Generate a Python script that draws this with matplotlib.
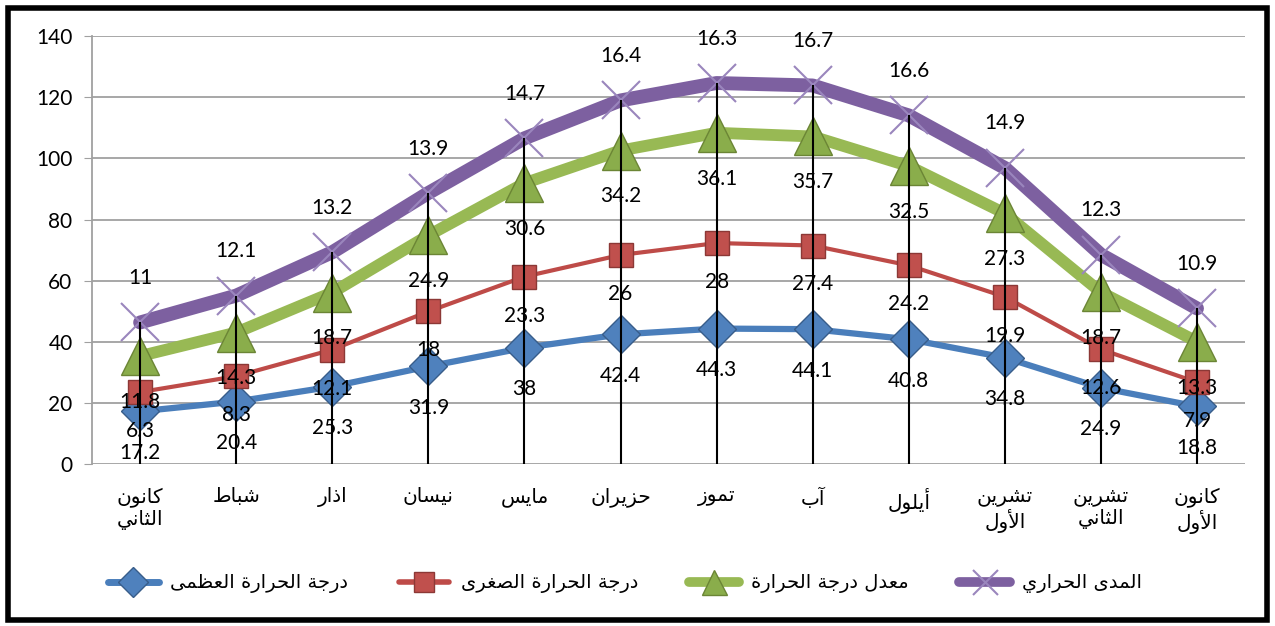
import matplotlib
matplotlib.use("Agg")
import matplotlib.pyplot as plt
from matplotlib.lines import Line2D
from matplotlib.patches import Rectangle
import numpy as np

# ---------------- data ----------------
months = ["كانون\nالثاني", "شباط", "اذار", "نيسان", "مايس", "حزيران", "تموز",
          "آب", "أيلول", "تشرين\nالأول", "تشرين\nالثاني", "كانون\nالأول"]
series_names = ["درجة الحرارة العظمى", "درجة الحرارة الصغرى", "معدل درجة الحرارة", "المدى الحراري"]
max_temp = [17.2, 20.4, 25.3, 31.9, 38, 42.4, 44.3, 44.1, 40.8, 34.8, 24.9, 18.8]
min_temp = [6.3, 8.3, 12.1, 18, 23.3, 26, 28, 27.4, 24.2, 19.9, 12.6, 7.9]
mean_temp = [11.8, 14.3, 18.7, 24.9, 30.6, 34.2, 36.1, 35.7, 32.5, 27.3, 18.7, 13.3]
temp_range = [11, 12.1, 13.2, 13.9, 14.7, 16.4, 16.3, 16.7, 16.6, 14.9, 12.3, 10.9]
y_ticks = [0, 20, 40, 60, 80, 100, 120, 140]

# ---------------- minimal Arabic shaping ----------------
DUAL = {
    'ب': (0xFE8F, 0xFE90, 0xFE91, 0xFE92), 'ت': (0xFE95, 0xFE96, 0xFE97, 0xFE98),
    'ث': (0xFE99, 0xFE9A, 0xFE9B, 0xFE9C), 'ج': (0xFE9D, 0xFE9E, 0xFE9F, 0xFEA0),
    'ح': (0xFEA1, 0xFEA2, 0xFEA3, 0xFEA4), 'خ': (0xFEA5, 0xFEA6, 0xFEA7, 0xFEA8),
    'س': (0xFEB1, 0xFEB2, 0xFEB3, 0xFEB4), 'ش': (0xFEB5, 0xFEB6, 0xFEB7, 0xFEB8),
    'ص': (0xFEB9, 0xFEBA, 0xFEBB, 0xFEBC), 'ض': (0xFEBD, 0xFEBE, 0xFEBF, 0xFEC0),
    'ط': (0xFEC1, 0xFEC2, 0xFEC3, 0xFEC4), 'ظ': (0xFEC5, 0xFEC6, 0xFEC7, 0xFEC8),
    'ع': (0xFEC9, 0xFECA, 0xFECB, 0xFECC), 'غ': (0xFECD, 0xFECE, 0xFECF, 0xFED0),
    'ف': (0xFED1, 0xFED2, 0xFED3, 0xFED4), 'ق': (0xFED5, 0xFED6, 0xFED7, 0xFED8),
    'ك': (0xFED9, 0xFEDA, 0xFEDB, 0xFEDC), 'ل': (0xFEDD, 0xFEDE, 0xFEDF, 0xFEE0),
    'م': (0xFEE1, 0xFEE2, 0xFEE3, 0xFEE4), 'ن': (0xFEE5, 0xFEE6, 0xFEE7, 0xFEE8),
    'ه': (0xFEE9, 0xFEEA, 0xFEEB, 0xFEEC), 'ي': (0xFEF1, 0xFEF2, 0xFEF3, 0xFEF4),
}
RIGHT = {
    'ا': (0xFE8D, 0xFE8E), 'آ': (0xFE81, 0xFE82), 'أ': (0xFE83, 0xFE84),
    'د': (0xFEA9, 0xFEAA), 'ذ': (0xFEAB, 0xFEAC), 'ر': (0xFEAD, 0xFEAE),
    'ز': (0xFEAF, 0xFEB0), 'و': (0xFEED, 0xFEEE), 'ة': (0xFE93, 0xFE94),
    'ى': (0xFEEF, 0xFEF0),
}
LAMALEF = {'ا': (0xFEFB, 0xFEFC), 'آ': (0xFEF5, 0xFEF6), 'أ': (0xFEF7, 0xFEF8)}


def shape(text):
    lines = []
    for line in text.split("\n"):
        toks = []
        i = 0
        while i < len(line):
            c = line[i]
            if c == 'ل' and i + 1 < len(line) and line[i + 1] in LAMALEF:
                toks.append(('LA', line[i + 1]))
                i += 2
            else:
                toks.append((c, None))
                i += 1

        def joinable(t):
            return t[0] in DUAL or t[0] in RIGHT or t[0] == 'LA'

        out = []
        for k, t in enumerate(toks):
            pj = k > 0 and toks[k - 1][0] in DUAL and joinable(t)
            nj = t[0] in DUAL and k + 1 < len(toks) and joinable(toks[k + 1])
            if t[0] == 'LA':
                f = LAMALEF[t[1]]
                out.append(chr(f[1] if pj else f[0]))
            elif t[0] in DUAL:
                f = DUAL[t[0]]
                idx = 3 if (pj and nj) else 1 if pj else 2 if nj else 0
                out.append(chr(f[idx]))
            elif t[0] in RIGHT:
                f = RIGHT[t[0]]
                out.append(chr(f[1] if pj else f[0]))
            else:
                out.append(t[0])
        lines.append("".join(reversed(out)))
    return "\n".join(lines)


# ---------------- plot ----------------
plt.rcParams['font.family'] = ['Lato', 'DejaVu Sans']
fig = plt.figure(figsize=(12.75, 6.26), dpi=100)
ax = fig.add_axes([0.0722, 0.259, 0.9043, 0.683])

x = np.arange(len(months))
s1 = np.array(max_temp)
s2 = s1 + np.array(min_temp)
s3 = s2 + np.array(mean_temp)
s4 = s3 + np.array(temp_range)

styles = [
    dict(color='#4A7EBB', lw=4.5, marker='D', ms=19, mfc='#4F81BD', mec='#385D8A', mew=1.0),
    dict(color='#BE4B48', lw=3.0, marker='s', ms=17, mfc='#C0504D', mec='#8C3836', mew=1.0),
    dict(color='#98B954', lw=8.5, marker='^', ms=27, mfc='#8AAD4B', mec='#6B8535', mew=1.0),
    dict(color='#7D60A0', lw=10, marker='x', ms=27, mfc='#9A86BD', mec='#9A86BD', mew=1.5),
]
stacks = [s1, s2, s3, s4]
vals = [max_temp, min_temp, mean_temp, temp_range]
offsets = [-30, -28, -33, 32]

ax.set_xlim(-0.5, len(months) - 0.5)
ax.set_ylim(0, 140)
ax.set_yticks(y_ticks)
ax.grid(axis='y', color='#A0A0A0', lw=1.3)
ax.set_axisbelow(True)

for st, sv in zip(styles, stacks):
    ax.plot(x, sv, color=st['color'], lw=st['lw'], marker=st['marker'], ms=st['ms'],
            mfc=st['mfc'], mec=st['mec'], mew=st['mew'], zorder=3, solid_capstyle='round')

ax.vlines(x, 0, s4, color='black', lw=1.5, zorder=4)

for sv, v, off in zip(stacks, vals, offsets):
    for xi, yi, val in zip(x, sv, v):
        ax.annotate(f"{val:g}", (xi, yi), xytext=(0, off), textcoords='offset points',
                    ha='center', va='center', fontsize=15, color='black', zorder=5)

for sp in ['top', 'right', 'bottom']:
    ax.spines[sp].set_visible(False)
ax.spines['left'].set_color('#A0A0A0')
ax.spines['left'].set_linewidth(1.3)
ax.tick_params(axis='y', length=6, color='#A0A0A0', labelsize=15, pad=8)
ax.tick_params(axis='x', length=0, pad=17)
ax.set_xticks(x)
ax.set_xticklabels([shape(m) for m in months], fontsize=14.5, family=['DejaVu Sans'],
                   multialignment='center', linespacing=1.15)

handles = [Line2D([], [], color=st['color'], lw=[5, 4, 7, 7][i], marker=st['marker'],
                  ms=[15, 14, 18, 18][i], mfc=st['mfc'], mec=st['mec'], mew=st['mew'],
                  solid_capstyle='round')
           for i, st in enumerate(styles)]
fig.legend(handles, [shape(n) for n in series_names], loc='center',
           bbox_to_anchor=(0.49, 0.068), ncol=4, frameon=False, handlelength=2.6,
           handletextpad=0.6, columnspacing=2.6, prop={'family': 'DejaVu Sans', 'size': 14})

fig.patches.append(Rectangle((0.006, 0.01), 0.988, 0.978, transform=fig.transFigure,
                             fill=False, edgecolor='black', lw=4))

fig.savefig("out.png", dpi=100)
